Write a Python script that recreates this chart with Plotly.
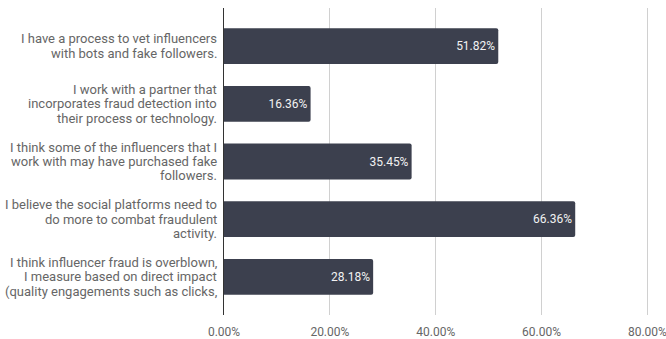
import plotly.graph_objects as go

# Survey responses on influencer fraud (one entry per answer, lines split with <br>)
categories = [
    "I have a process to vet influencers<br>with bots and fake followers.",
    "I work with a partner that<br>incorporates fraud detection into<br>their process or technology.",
    "I think some of the influencers that I<br>work with may have purchased fake<br>followers.",
    "I believe the social platforms need to<br>do more to combat fraudulent<br>activity.",
    "I think influencer fraud is overblown,<br>I measure based on direct impact<br>(quality engagements such as clicks,",
]
shares = [0.5182, 0.1636, 0.3545, 0.6636, 0.2818]
x_ticks = [0, 0.2, 0.4, 0.6, 0.8]

BAR_COLOR = "#3c404e"
TEXT_GREY = "#666666"
FONT = "Roboto, Arial, sans-serif"
LINE_STEP = 14.3  # px between wrapped label lines

positions = list(range(len(categories)))

fig = go.Figure(
    go.Bar(
        x=shares,
        y=positions,
        orientation="h",
        width=0.62,
        marker=dict(color=BAR_COLOR, cornerradius=2, line=dict(width=0)),
        texttemplate="%{x:.2%}",
        textposition="inside",
        insidetextanchor="end",
        textfont=dict(color="#f2f2f2", size=12, family=FONT),
        hoverinfo="skip",
    )
)

# Category labels: each wrapped line placed separately for tight line spacing
for pos, label in zip(positions, categories):
    lines = label.split("<br>")
    n = len(lines)
    for i, line in enumerate(lines):
        fig.add_annotation(
            x=0,
            xref="paper",
            y=pos,
            yref="y",
            text=line,
            showarrow=False,
            xanchor="right",
            yanchor="middle",
            xshift=-5,
            yshift=((n - 1) / 2 - i) * LINE_STEP,
            font=dict(size=13, color=TEXT_GREY, family=FONT),
        )

fig.update_layout(
    width=666,
    height=339,
    margin=dict(l=224, r=17, t=8, b=24),
    plot_bgcolor="white",
    paper_bgcolor="white",
    showlegend=False,
    font=dict(family=FONT, size=12, color=TEXT_GREY),
)

fig.update_xaxes(
    range=[0, 0.803],
    tickvals=x_ticks,
    tickformat=".2%",
    showgrid=True,
    gridcolor="#d0d0d0",
    gridwidth=1,
    zeroline=False,
    showline=False,
    ticks="",
    ticklabelstandoff=8,
    ticklabeloverflow="allow",
    automargin=False,
    tickfont=dict(size=12, color=TEXT_GREY),
)

fig.update_yaxes(
    range=[4.66, -0.66],
    tickvals=positions,
    showticklabels=False,
    showgrid=False,
    zeroline=False,
    showline=True,
    linecolor="#333333",
    linewidth=1,
    ticks="",
)

fig.write_html("out.html")
